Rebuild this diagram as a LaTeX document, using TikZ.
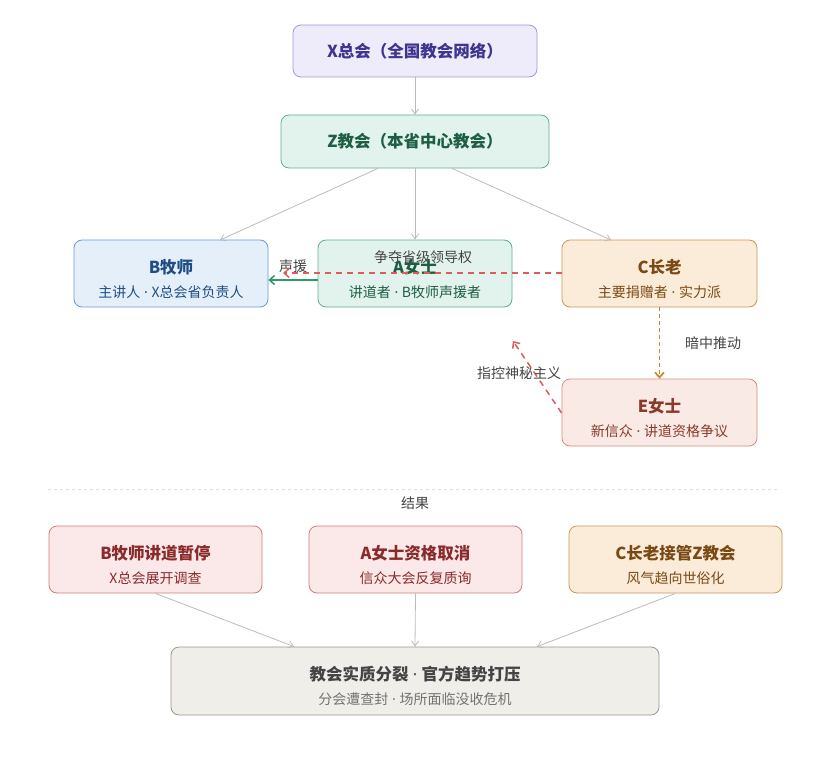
\documentclass[tikz,border=0pt]{standalone}
\usepackage{fontspec}
\setmainfont{Noto Sans CJK SC}
\newfontfamily\latf{Noto Sans}
\newcommand{\mdot}{{\latf\ ·\ }}
\newcommand{\twoline}[2]{{\fontsize{16.5}{19}\selectfont\bfseries\rule{0pt}{25pt}#1}\\[9.5pt]{\fontsize{14}{16}\selectfont #2}}
\usetikzlibrary{arrows.meta}
\definecolor{xf}{HTML}{EEEBFB}\definecolor{xd}{HTML}{9F97DE}\definecolor{xt}{HTML}{3F3590}
\definecolor{gf}{HTML}{E1F3EC}\definecolor{gd}{HTML}{5FAE8E}\definecolor{gt}{HTML}{1E5E44}
\definecolor{bf}{HTML}{E5EFFA}\definecolor{bd}{HTML}{6A9AD0}\definecolor{bt}{HTML}{1F4E85}
\definecolor{of}{HTML}{FBEBD9}\definecolor{od}{HTML}{C9955A}\definecolor{ot}{HTML}{7A4A14}
\definecolor{ef}{HTML}{FAEAE6}\definecolor{ed}{HTML}{D68A7A}\definecolor{et}{HTML}{8A3A2A}
\definecolor{rf}{HTML}{FBE9E9}\definecolor{rd}{HTML}{D27A7A}\definecolor{rt}{HTML}{8A2A2A}
\definecolor{ff}{HTML}{F0EEE8}\definecolor{fd}{HTML}{9A968E}\definecolor{ft}{HTML}{444444}
\definecolor{gl}{HTML}{BBBBBB}\definecolor{redl}{HTML}{E05A5A}\definecolor{brl}{HTML}{C8862A}
\definecolor{grl}{HTML}{2E9A6A}\definecolor{lab}{HTML}{444444}
\begin{document}
\begin{tikzpicture}[x=1pt,y=-1pt,
  box/.style={draw,rounded corners=8pt,line width=0.8pt,align=center,inner sep=0pt},
  ttl/.style={font=\fontsize{16.5}{19}\selectfont\bfseries},
  lbl/.style={font=\fontsize{14}{16}\selectfont,text=lab},
  conn/.style={draw=gl,line width=0.8pt,-{Straight Barb[length=5pt,width=7pt]}},
  dtip/.style={-{Straight Barb[length=5pt,width=9pt]}},
]
\useasboundingbox (0,0) rectangle (829,757);
% top
\node[box,fill=xf,draw=xd,text=xt,minimum width=244pt,minimum height=52pt,ttl] (X) at (415,51) {X总会（全国教会网络）};
\node[box,fill=gf,draw=gd,text=gt,minimum width=268pt,minimum height=53pt,ttl] (Z) at (415,141.5) {Z教会（本省中心教会）};
% middle
\node[box,fill=bf,draw=bd,text=bt,minimum width=194pt,minimum height=67pt] (B) at (171,273.5) {\twoline{B牧师}{主讲人\mdot X总会省负责人}};
\node[box,fill=gf,draw=gd,text=gt,minimum width=194pt,minimum height=67pt] (A) at (415,273.5) {\twoline{A女士}{讲道者\mdot B牧师声援者}};
\node[box,fill=of,draw=od,text=ot,minimum width=195pt,minimum height=67pt] (C) at (659.5,273.5) {\twoline{C长老}{主要捐赠者\mdot 实力派}};
\node[box,fill=ef,draw=ed,text=et,minimum width=195pt,minimum height=67pt] (E) at (659.5,412.5) {\twoline{E女士}{新信众\mdot 讲道资格争议}};
% connectors top
\draw[conn] (X) -- (Z);
\draw[conn] (Z.south) ++(-37,0) coordinate (zb) (zb) -- (220,240) coordinate (bt);
\draw[conn] (Z) -- (A);
\draw[conn] (Z.south) ++(37,0) coordinate (zc) (zc) -- (611,240) coordinate (ct);
% A -> B green
\draw[draw=grl,line width=1.5pt,dtip] (A.west |- 0,280) -- (B.east |- 0,280);
\node[lbl] (l1) at (293,266) {声援};
% C -> (past A) red dashed
\coordinate (cend) at (283,273);
\draw[draw=redl,line width=1.5pt,dash pattern=on 6pt off 5pt,dtip] (C.west |- 0,273) -- (cend);
\node[lbl] (l2) at (423,257) {争夺省级领导权};
% C -> E
\draw[draw=brl,line width=1.7pt,dash pattern=on 4pt off 3pt,dtip] (C) -- (E);
\node[lbl] (l3) at (713,343) {暗中推动};
% E -> accusation
\coordinate (eend) at (513,341);
\draw[draw=redl,line width=1.5pt,dash pattern=on 6pt off 5pt,dtip] (E.west |- 0,413) -- (eend);
\node[lbl] (l4) at (519,373) {指控神秘主义};
% separator
\draw[draw=gray!25,line width=0.6pt,dash pattern=on 3pt off 3pt] (48,489) coordinate (s1) -- (778,489) coordinate (s2);
\node[lbl] (res) at (415,503) {结果};
% results
\node[box,fill=rf,draw=rd,text=rt,minimum width=213pt,minimum height=67pt] (B2) at (155.5,559.5) {\twoline{B牧师讲道暂停}{X总会展开调查}};
\node[box,fill=rf,draw=rd,text=rt,minimum width=213pt,minimum height=67pt] (A2) at (415.5,559.5) {\twoline{A女士资格取消}{信众大会反复质询}};
\node[box,fill=of,draw=od,text=ot,minimum width=213pt,minimum height=67pt] (C2) at (675.5,559.5) {\twoline{C长老接管Z教会}{风气趋向世俗化}};
\node[box,fill=ff,draw=fd,text=ft,minimum width=488pt,minimum height=68pt] (F) at (415,681) {\twoline{教会实质分裂\mdot 官方趋势打压}{\color{gray!90!black}分会遭查封\mdot 场所面临没收危机}};
\draw[conn] (B2.south) -- (F.north -| 294,0);
\draw[conn] (A2.south) -- (F.north -| 415,0);
\draw[conn] (C2.south) -- (F.north -| 537,0);
\end{tikzpicture}
\end{document}
